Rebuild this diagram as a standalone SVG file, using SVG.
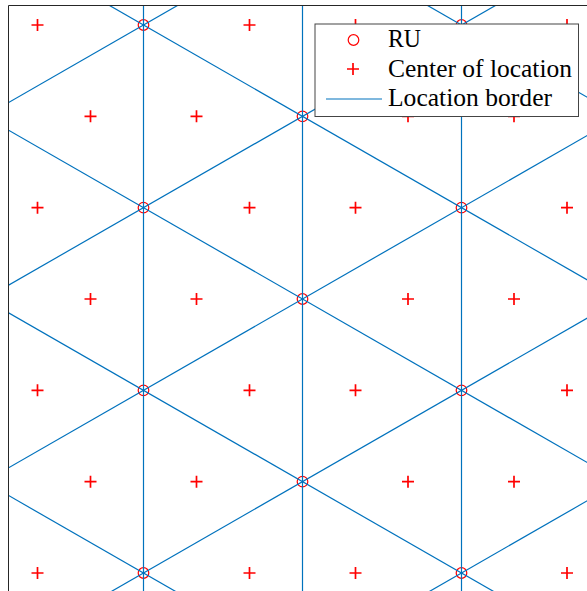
<svg xmlns="http://www.w3.org/2000/svg" xmlns:xlink="http://www.w3.org/1999/xlink" width="587" height="591" viewBox="0 0 587 591">
<style>
.ru{fill:none;stroke:#ff0000;stroke-width:1.2}
.ctr{fill:none;stroke:#ff0000;stroke-width:1.7}
.border{stroke:#0072bd;stroke-width:1.2;fill:none}
.axis{stroke:#262626;stroke-width:1;fill:none}
.lbl{font-family:"Liberation Serif","DejaVu Serif",serif;font-size:25px;fill:#000}
</style>
<defs>
<clipPath id="plotclip"><rect x="8" y="5" width="579" height="586"/></clipPath>
<circle id="ruMark" class="ru" r="5.3"/>
<path id="ctrMark" class="ctr" d="M-6,0H6M0,-6V6"/>
</defs>
<rect width="587" height="591" fill="#fff"/>
<g clip-path="url(#plotclip)">
<g id="rus">
<g id="ru-1"><use xlink:href="#ruMark" x="143.5" y="25"/></g>
<g id="ru-2"><use xlink:href="#ruMark" x="143.5" y="207.67"/></g>
<g id="ru-3"><use xlink:href="#ruMark" x="143.5" y="390.33"/></g>
<g id="ru-4"><use xlink:href="#ruMark" x="143.5" y="573"/></g>
<g id="ru-5"><use xlink:href="#ruMark" x="302.5" y="116.33"/></g>
<g id="ru-6"><use xlink:href="#ruMark" x="302.5" y="299"/></g>
<g id="ru-7"><use xlink:href="#ruMark" x="302.5" y="481.67"/></g>
<g id="ru-8"><use xlink:href="#ruMark" x="461.5" y="25"/></g>
<g id="ru-9"><use xlink:href="#ruMark" x="461.5" y="207.67"/></g>
<g id="ru-10"><use xlink:href="#ruMark" x="461.5" y="390.33"/></g>
<g id="ru-11"><use xlink:href="#ruMark" x="461.5" y="573"/></g>
</g>
<g id="centers">
<g id="c-r1-1"><use xlink:href="#ctrMark" x="37.5" y="25"/></g>
<g id="c-r1-2"><use xlink:href="#ctrMark" x="249.5" y="25"/></g>
<g id="c-r1-3"><use xlink:href="#ctrMark" x="355.5" y="25"/></g>
<g id="c-r1-4"><use xlink:href="#ctrMark" x="567" y="25"/></g>
<g id="c-r2-1"><use xlink:href="#ctrMark" x="90.5" y="116.33"/></g>
<g id="c-r2-2"><use xlink:href="#ctrMark" x="196.5" y="116.33"/></g>
<g id="c-r2-3"><use xlink:href="#ctrMark" x="408" y="116.33"/></g>
<g id="c-r2-4"><use xlink:href="#ctrMark" x="514" y="116.33"/></g>
<g id="c-r3-1"><use xlink:href="#ctrMark" x="37.5" y="207.67"/></g>
<g id="c-r3-2"><use xlink:href="#ctrMark" x="249.5" y="207.67"/></g>
<g id="c-r3-3"><use xlink:href="#ctrMark" x="355.5" y="207.67"/></g>
<g id="c-r3-4"><use xlink:href="#ctrMark" x="567" y="207.67"/></g>
<g id="c-r4-1"><use xlink:href="#ctrMark" x="90.5" y="299"/></g>
<g id="c-r4-2"><use xlink:href="#ctrMark" x="196.5" y="299"/></g>
<g id="c-r4-3"><use xlink:href="#ctrMark" x="408" y="299"/></g>
<g id="c-r4-4"><use xlink:href="#ctrMark" x="514" y="299"/></g>
<g id="c-r5-1"><use xlink:href="#ctrMark" x="37.5" y="390.33"/></g>
<g id="c-r5-2"><use xlink:href="#ctrMark" x="249.5" y="390.33"/></g>
<g id="c-r5-3"><use xlink:href="#ctrMark" x="355.5" y="390.33"/></g>
<g id="c-r5-4"><use xlink:href="#ctrMark" x="567" y="390.33"/></g>
<g id="c-r6-1"><use xlink:href="#ctrMark" x="90.5" y="481.67"/></g>
<g id="c-r6-2"><use xlink:href="#ctrMark" x="196.5" y="481.67"/></g>
<g id="c-r6-3"><use xlink:href="#ctrMark" x="408" y="481.67"/></g>
<g id="c-r6-4"><use xlink:href="#ctrMark" x="514" y="481.67"/></g>
<g id="c-r7-1"><use xlink:href="#ctrMark" x="37.5" y="573"/></g>
<g id="c-r7-2"><use xlink:href="#ctrMark" x="249.5" y="573"/></g>
<g id="c-r7-3"><use xlink:href="#ctrMark" x="355.5" y="573"/></g>
<g id="c-r7-4"><use xlink:href="#ctrMark" x="567" y="573"/></g>
</g>
<g id="borders" class="border">
<line x1="143.5" y1="0" x2="143.5" y2="600"/>
<line x1="302.5" y1="0" x2="302.5" y2="600"/>
<line x1="461.5" y1="0" x2="461.5" y2="600"/>
<line x1="0" y1="-240.1" x2="600" y2="104.55"/>
<line x1="0" y1="-57.43" x2="600" y2="287.22"/>
<line x1="0" y1="125.24" x2="600" y2="469.89"/>
<line x1="0" y1="307.91" x2="600" y2="652.56"/>
<line x1="0" y1="490.58" x2="600" y2="835.23"/>
<line x1="0" y1="107.43" x2="600" y2="-237.22"/>
<line x1="0" y1="290.10" x2="600" y2="-54.55"/>
<line x1="0" y1="472.77" x2="600" y2="128.12"/>
<line x1="0" y1="655.44" x2="600" y2="310.79"/>
<line x1="0" y1="838.11" x2="600" y2="493.46"/>
</g>
</g>
<g id="axes" class="axis">
<path d="M8.5,591V5.5H587"/>
</g>
<g id="legend">
<rect x="315" y="24" width="263.5" height="92.5" fill="#fff" stroke="#444" stroke-width="1"/>
<use xlink:href="#ruMark" x="353.5" y="40"/>
<use xlink:href="#ctrMark" x="353" y="69"/>
<line class="border" x1="326" y1="99" x2="382" y2="99"/>
<text class="lbl" x="388" y="47" textLength="33" lengthAdjust="spacingAndGlyphs">RU</text>
<text class="lbl" x="388" y="76.5" textLength="184" lengthAdjust="spacingAndGlyphs">Center of location</text>
<text class="lbl" x="388" y="105.5" textLength="164" lengthAdjust="spacingAndGlyphs">Location border</text>
</g>
</svg>
